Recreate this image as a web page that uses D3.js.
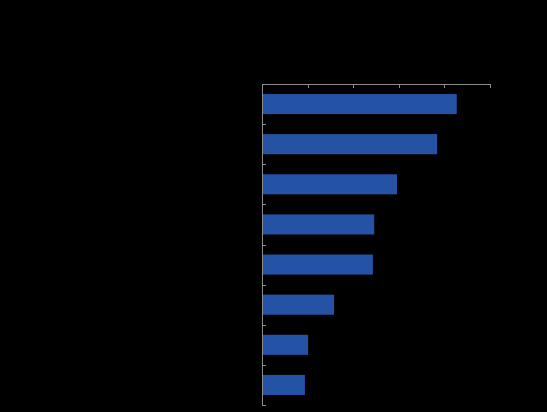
<!DOCTYPE html>
<html>
<head>
<meta charset="utf-8">
<script src="https://cdn.jsdelivr.net/npm/d3@7"></script>
<style>
  html, body { margin: 0; padding: 0; background: #000; }
  svg { display: block; }
</style>
</head>
<body>
<svg id="chart" width="547" height="412"></svg>
<script>
const categories = ["Item 1", "Item 2", "Item 3", "Item 4", "Item 5", "Item 6", "Item 7", "Item 8"];
const values = [42.6, 38.3, 29.5, 24.5, 24.2, 15.7, 10.0, 9.3];
const xTicks = [0, 10, 20, 30, 40, 50];

const width = 547, height = 412;
const margin = { top: 84, right: 57, bottom: 7, left: 262 };
const innerW = width - margin.left - margin.right;
const innerH = height - margin.top - margin.bottom;

const svg = d3.select("#chart");
svg.append("rect").attr("width", width).attr("height", height).attr("fill", "#000");

const g = svg.append("g").attr("transform", `translate(${margin.left},${margin.top})`);

const x = d3.scaleLinear().domain([0, 50]).range([0, innerW]);
const y = d3.scaleBand().domain(categories).range([0, innerH]).paddingInner(0.5).paddingOuter(0.25);
const yB = d3.scaleLinear().domain([0, categories.length]).range([0, innerH]);

// bars
g.selectAll("rect.bar")
  .data(values)
  .join("rect")
  .attr("class", "bar")
  .attr("x", x(0) + 0.5)
  .attr("y", (d, i) => y(categories[i]))
  .attr("width", d => x(d) - x(0))
  .attr("height", y.bandwidth())
  .attr("fill", "#2453a6");

// top axis
const xAxis = g.append("g")
  .call(d3.axisTop(x).tickValues(xTicks).tickSizeInner(-4).tickSizeOuter(-4).tickPadding(10));
xAxis.selectAll("path, line").attr("stroke", "#8c8c8c").attr("shape-rendering", "crispEdges");
xAxis.selectAll("text").attr("fill", "#000").attr("font-family", "Arial, Liberation Sans, sans-serif").attr("font-size", 11);

// left axis with ticks at band boundaries
const yAxis = g.append("g")
  .call(d3.axisLeft(yB).tickValues(d3.range(1, categories.length + 1)).tickSizeInner(-4).tickSizeOuter(0).tickFormat(""));
yAxis.selectAll("path, line").attr("stroke", "#8c8c8c").attr("shape-rendering", "crispEdges");

// category labels (rendered in background colour, as in the reference)
g.selectAll("text.cat")
  .data(categories)
  .join("text")
  .attr("class", "cat")
  .attr("x", -8)
  .attr("y", d => y(d) + y.bandwidth() / 2)
  .attr("dy", "0.35em")
  .attr("text-anchor", "end")
  .attr("fill", "#000")
  .attr("font-family", "Arial, Liberation Sans, sans-serif")
  .attr("font-size", 11)
  .text(d => d);
</script>
</body>
</html>
